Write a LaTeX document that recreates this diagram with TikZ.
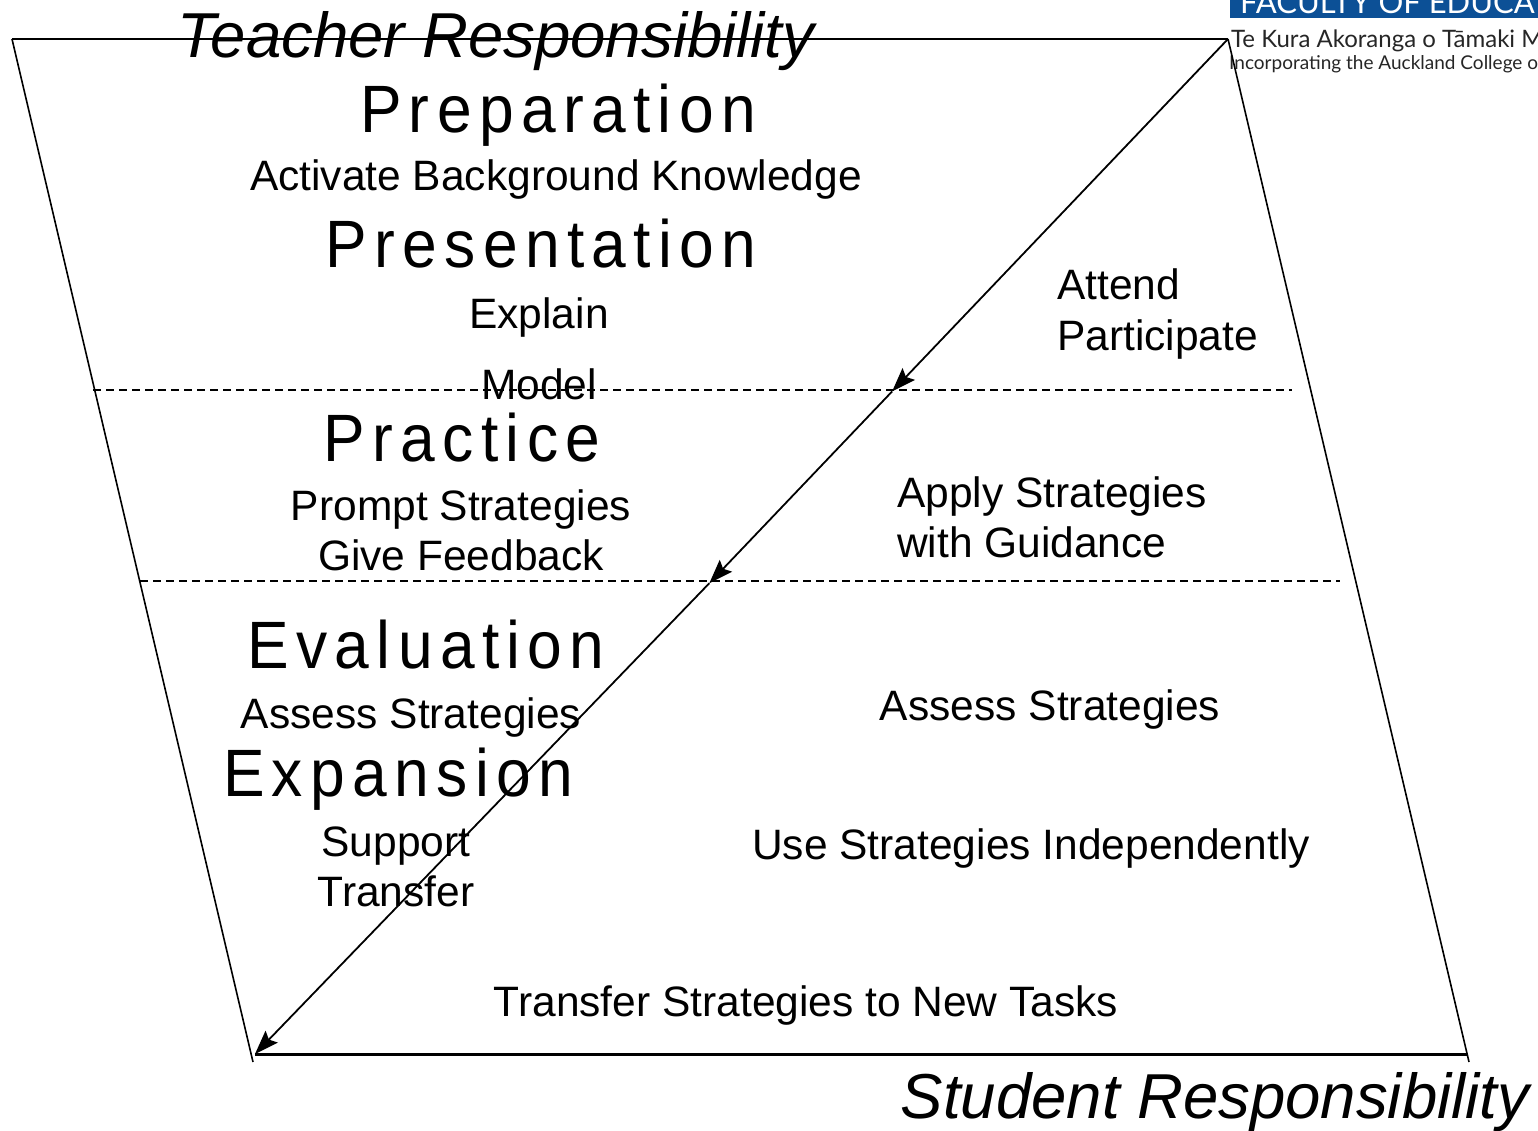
\documentclass[tikz,border=0pt]{standalone}
\usepackage{fontspec}
\setmainfont{Liberation Sans}
\newfontfamily\stagefont[FakeStretch=0.93,LetterSpace=11]{Liberation Sans}
\newfontfamily\logofont{Lato}
\usetikzlibrary{arrows.meta}
\usetikzlibrary{calc}
\definecolor{logoblue}{RGB}{12,80,150}
\tikzset{
    mystage/.style = {inner sep=0pt, anchor=base, font=\stagefont\fontsize{67}{70}\selectfont},
    mytext/.style = {inner sep=0pt, anchor=base, font=\fontsize{42.5}{50}\selectfont},
    mytextl/.style = {inner sep=0pt, anchor=base west, font=\fontsize{42.5}{50}\selectfont},
    myrole/.style = {inner sep=0pt, anchor=base, font=\itshape\fontsize{63.5}{70}\selectfont},
    mylogo/.style = {inner sep=0pt, anchor=base west, font=\logofont},
    edgen/.style = {-,line width=1.6pt,black},
    edgenb/.style = {-,line width=3pt,black},
    edged/.style = {-,line width=2pt,black,dash pattern=on 8pt off 5pt},
    edgea/.style = {-{Stealth[length=24pt,width=17pt,inset=4pt]},line width=1.8pt,black},
}
\begin{document}
\begin{tikzpicture}[x=1pt,y={(0,-1pt)}]
\useasboundingbox (0,0) rectangle (1538,1131);
\clip (0,0) rectangle (1538,1131);

% corners of the frame
\coordinate (TL) at (12,39);
\coordinate (TR) at (1228,39);
\coordinate (BL) at (253,1062);
\coordinate (BR) at (1469,1062);
\coordinate (B1) at (255,1054);
\coordinate (B2) at (1468,1054);
\coordinate (D1a) at (93,390);
\coordinate (D1b) at (1292,390);
\coordinate (D2a) at (140,581);
\coordinate (D2b) at (1340,581);
\coordinate (M1) at ($(TR)!0.3445!(BL)$);
\coordinate (M2) at ($(TR)!0.532!(BL)$);

% logo
\fill[logoblue] (1230,-10) rectangle (1545,18);
\node[mylogo, text=white, font=\logofont\fontsize{31}{33}\selectfont] at (1240,14) (fac) {FACULTY OF EDUCATION};
\node[mylogo, text=black!85, font=\logofont\fontsize{24}{26}\selectfont] at (1231,48) (kura) {Te Kura Akoranga o Tāmaki Makaurau};
\node[mylogo, text=black!85, font=\logofont\fontsize{19}{21}\selectfont] at (1229,70) (inc) {Incorporating the Auckland College of Education};

% frame
\draw[edgen] (TL) -- (TR);
\draw[edgen] (TL) -- (BL);
\draw[edgen] (TR) -- (BR);
\draw[edgenb] (B1) -- (B2);
\draw[edged] (D1a) -- (D1b);
\draw[edged] (D2a) -- (D2b);
\draw[edgea] (TR) -- (M1);
\draw[edgea] (M1) -- (M2);
\draw[edgea] (M2) -- (B1);

%
\node[myrole] at (496,58) (teach) {Teacher Responsibility};
\node[myrole] at (1215,1118) (stud) {Student Responsibility};
%
\node[mystage] at (558,133) (prep) {Preparation};
\node[mystage] at (541,268) (pres) {Presentation};
\node[mystage] at (462,461) (prac) {Practice};
\node[mystage] at (426,668) (eval) {Evaluation};
\node[mystage] at (398,796) (expa) {Expansion};
%
\node[mytext] at (556,191) (abk) {Activate Background Knowledge};
\node[mytext] at (539,328) (expl) {Explain};
\node[mytext] at (539,399) (mod) {Model};
\node[mytext] at (461,520) (prompt) {Prompt Strategies};
\node[mytext] at (461,570) (feed) {Give Feedback};
\node[mytext] at (411,728) (asl) {Assess Strategies};
\node[mytext] at (396,856) (supp) {Support};
\node[mytext] at (396,906) (trans) {Transfer};
%
\node[mytextl] at (1057,300) (att) {Attend};
\node[mytextl] at (1057,350) (part) {Participate};
\node[mytextl] at (897,507) (apply) {Apply Strategies};
\node[mytextl] at (897,557) (guid) {with Guidance};
\node[mytext] at (1050,720) (asr) {Assess Strategies};
\node[mytext] at (1031,859) (indep) {Use Strategies Independently};
\node[mytext] at (806,1016) (newt) {Transfer Strategies to New Tasks};

\end{tikzpicture}
\end{document}
